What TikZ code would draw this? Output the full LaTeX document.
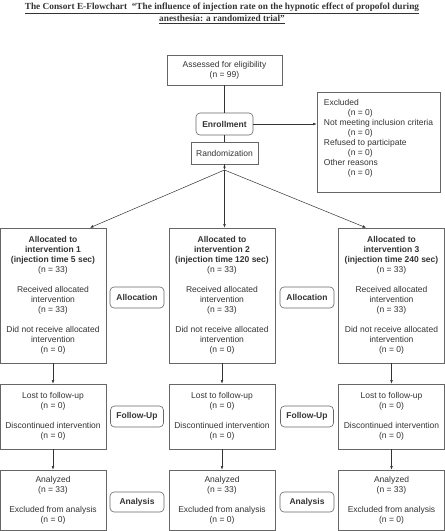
\documentclass[tikz,border=0pt]{standalone}
\usepackage{fontspec}
\setmainfont{Liberation Sans}
\newfontfamily\titlefont{Liberation Serif}
\usetikzlibrary{arrows.meta}
\definecolor{ink}{HTML}{333333}
\definecolor{edge}{HTML}{666666}
\begin{document}
\begin{tikzpicture}[x=1pt, y=1pt,
    every node/.style={text=ink, font=\fontsize{8.5}{10}\selectfont},
    box/.style={draw=edge, line width=0.6pt, align=center, inner sep=0pt},
    lbl/.style={draw=edge, line width=0.6pt, rounded corners=4pt, inner sep=0pt, minimum height=21pt,
                font=\fontsize{8.5}{10}\selectfont\bfseries},
    link/.style={draw=ink, line width=0.5pt},
    arr/.style={draw=ink, line width=0.5pt, -{Latex[length=3.5pt,width=2.6pt]}}]
  \useasboundingbox (0,0) rectangle (445,-531);
  % title
  \node[font=\titlefont\bfseries\fontsize{9.3}{12}\selectfont, align=center] (title) at (222,-13.5)
    {\underline{The Consort E-Flowchart\ \ “The influence of injection rate on the hypnotic effect of propofol during}\\
     \underline{anesthesia: a randomized trial”}};
  % enrollment
  \node[box, minimum width=115pt, minimum height=30pt] (assess) at (224.5,-70)
    {Assessed for eligibility\\(n = 99)};
  \node[lbl, minimum width=57pt, minimum height=22pt] (enroll) at (224.5,-124) {Enrollment};
  \node[box, minimum width=67pt, minimum height=22pt] (rand) at (224.5,-153) {Randomization};
  \node[box, minimum width=123pt, minimum height=100pt, align=left] (excl) at (378.5,-142)
    {Excluded\\\hspace*{24pt}(n = 0)\\Not meeting inclusion criteria\\\hspace*{24pt}(n = 0)\\
     Refused to participate\\\hspace*{24pt}(n = 0)\\Other reasons\\\hspace*{24pt}(n = 0)\\\mbox{}};
  \coordinate (split) at (224.5,-170);
  \draw[link] (assess) -- (enroll);
  \draw[link] (enroll) -- (rand);
  \draw[arr] (enroll.east) -- (enroll.east -| excl.west);
  \draw[arr] (rand.south) -- (split);
  % three arms
  \foreach \i/\x/\t/\dx in {1/53/5/37, 2/222/120/2.5, 3/391.5/240/-25.5}{
      \node[box, minimum width=106pt, minimum height=135pt] (alloc\i) at (\x,-295.5)
        {\textbf{Allocated to}\\\textbf{intervention \i}\\\textbf{(injection time \t\ sec)}\\(n = 33)\\[10pt]
         Received allocated\\intervention\\(n = 33)\\[10pt]
         Did not receive allocated\\intervention\\(n = 0)};
      \node[box, minimum width=106pt, minimum height=65pt] (fu\i) at (\x,-416.5)
        {Lost to follow-up\\(n = 0)\\[10pt]Discontinued intervention\\(n = 0)};
      \node[box, minimum width=106pt, minimum height=60pt] (an\i) at (\x,-500)
        {Analyzed\\(n = 33)\\[10pt]Excluded from analysis\\(n = 0)};
      \draw[arr] (split) -- ([xshift=\dx pt]alloc\i.north);
      \draw[arr] (alloc\i) -- (fu\i);
      \draw[arr] (fu\i) -- (an\i);
  }
  % stage labels
  \foreach \j/\x in {1/137, 2/307}{
      \node[lbl, minimum width=54pt] (allocl\j) at (\x,-297.5) {Allocation};
      \node[lbl, minimum width=53pt] (ful\j) at (\x,-416.5) {Follow-Up};
      \node[lbl, minimum width=54pt, minimum height=20pt] (anl\j) at (\x,-502) {Analysis};
  }
\end{tikzpicture}
\end{document}
